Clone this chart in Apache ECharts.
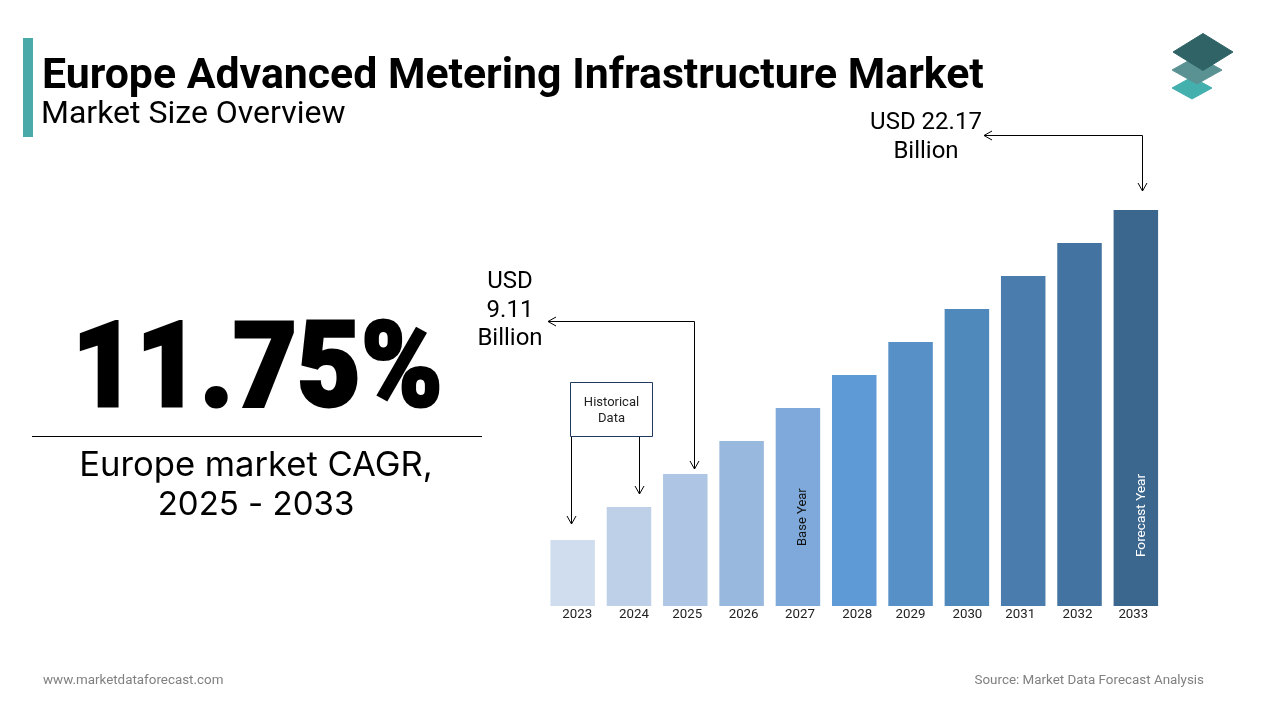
<!DOCTYPE html>
<html>
<head>
<meta charset="utf-8">
<style>html,body{margin:0;padding:0;background:#fff}#chart{width:1280px;height:720px}</style>
<script src="https://cdn.jsdelivr.net/npm/echarts@6/dist/echarts.min.js"></script>
</head>
<body>
<div id="chart"></div>
<script>
var years = ['2023','2024','2025','2026','2027','2028','2029','2030','2031','2032','2033'];
// anchored on the two printed values (2025 and 2033)
var marketSize = [5.85, 7.48, 9.11, 10.74, 12.38, 14.01, 15.64, 17.27, 18.91, 20.54, 22.17];
var barColors = ['#d0ddee','#bed0e8','#aec6e3','#98b8dd','#7fa9da','#5e9ad5','#5690c7','#4f88bb','#4a7dae','#4373a0','#3b678f'];
var labelShift = [9, 10, 4, 4, 4, 6, 0, 1, -6, -4, -5];

var chart = echarts.init(document.getElementById('chart'));

function line(points) {
    return {
        type: 'polyline',
        shape: { points: points },
        style: { stroke: '#000', lineWidth: 1, fill: null }
    };
}
function text(x, y, str, font, color, align) {
    return {
        type: 'text',
        x: x,
        y: y,
        style: {
            text: str,
            font: font,
            fill: color || '#000',
            align: align || 'center',
            verticalAlign: 'middle'
        }
    };
}
function diamond(cx, cy, w, h, color) {
    return {
        type: 'polygon',
        shape: { points: [[cx, cy - h], [cx + w, cy], [cx, cy + h], [cx - w, cy]] },
        style: { fill: color, stroke: color, lineWidth: 1, lineJoin: 'round' }
    };
}

// big figure: Roboto Black squeezed and thickened a little to get the reference's heavy look
var bigFigure = text(257.5, 376, '11.75%', '900 119px Roboto');
bigFigure.scaleX = 0.925;
bigFigure.style.stroke = '#000';
bigFigure.style.lineWidth = 3;

var graphics = [
    { type: 'rect', shape: { x: 23, y: 38, width: 10, height: 99 }, style: { fill: '#4aa9a9' } },
    text(42, 77, 'Europe Advanced Metering Infrastructure Market', '700 42.8px Roboto', '#000', 'left'),
    text(41, 115, 'Market Size Overview', '400 32px Roboto', '#000', 'left'),

    diamond(1192, 88, 20, 11, '#44b0ae'),
    diamond(1197, 70, 25, 14, '#5a9294'),
    diamond(1203, 52, 30, 18.5, '#2f6365'),

    bigFigure,
    { type: 'line', shape: { x1: 32, y1: 436.5, x2: 482, y2: 436.5 }, style: { stroke: '#000', lineWidth: 1 } },
    text(256, 466, 'Europe market CAGR,', '400 34.6px Inter'),
    text(256, 505, '2025 - 2033', '400 33px Inter'),

    text(510, 282, 'USD', '400 24px Roboto'),
    text(510, 311, '9.11', '400 24px Roboto'),
    text(510, 339, 'Billion', '400 24px Roboto'),
    text(926, 123, 'USD 22.17', '400 24px Roboto'),
    text(926, 152, 'Billion', '400 24px Roboto'),

    line([[548, 321.5], [694.5, 321.5], [694.5, 469]]),
    line([[556, 317], [548, 321.5], [556, 326]]),
    line([[690, 461], [694.5, 469], [699, 461]]),
    line([[984, 135.5], [1142.5, 135.5], [1142.5, 191]]),
    line([[992, 131], [984, 135.5], [992, 140]]),
    line([[1138, 183], [1142.5, 191], [1147, 183]]),

    { type: 'rect', shape: { x: 570.5, y: 382.5, width: 82, height: 54 }, style: { fill: '#fff', stroke: '#1f3a5f', lineWidth: 1 } },
    text(611.5, 403, 'Historical', '400 13px Roboto', '#222'),
    text(611.5, 419, 'Data', '400 13px Roboto', '#222'),
    line([[571.5, 437], [571.5, 524]]),
    line([[567, 516], [571.5, 524], [576, 516]]),
    line([[639.5, 437], [639.5, 494]]),
    line([[635, 486], [639.5, 494], [644, 486]]),

    text(43, 681, 'www.marketdataforecast.com', '400 13.4px Roboto', '#808080', 'left'),
    text(1204, 681, 'Source: Market Data Forecast Analysis', '400 13.4px Roboto', '#808080', 'right')
];

var barData = marketSize.map(function (v, i) {
    var item = { value: v, itemStyle: { color: barColors[i] } };
    if (years[i] === '2027') {
        item.label = { show: true, formatter: 'Base Year', color: '#111', fontSize: 13, distance: 60, offset: [0, 4.5] };
    }
    if (years[i] === '2033') {
        item.label = { show: true, formatter: 'Forecast Year', color: '#fff', fontSize: 13.6, distance: 49, offset: [0, 6] };
    }
    return item;
});

chart.setOption({
    animation: false,
    backgroundColor: '#fff',
    grid: { left: 544.5, right: 116, top: 110, bottom: 114 },
    xAxis: {
        type: 'category',
        data: years.map(function (y, i) {
            return { value: y, textStyle: { padding: labelShift[i] > 0 ? [0, 0, 0, labelShift[i]] : [0, -labelShift[i], 0, 0] } };
        }),
        axisLine: { show: false },
        axisTick: { show: false },
        axisLabel: { interval: 0, margin: 2, fontFamily: 'Roboto', fontSize: 13.3, color: '#222', verticalAlign: 'top' }
    },
    yAxis: { type: 'value', show: false, min: 2.58, max: 27.12, splitLine: { show: false } },
    series: [{
        type: 'bar',
        data: barData,
        barWidth: 44.5,
        label: {
            show: false,
            position: 'insideBottom',
            rotate: 90,
            align: 'left',
            verticalAlign: 'middle',
            fontFamily: 'Roboto',
            fontSize: 12
        }
    }],
    graphic: { elements: graphics }
});
</script>
</body>
</html>
